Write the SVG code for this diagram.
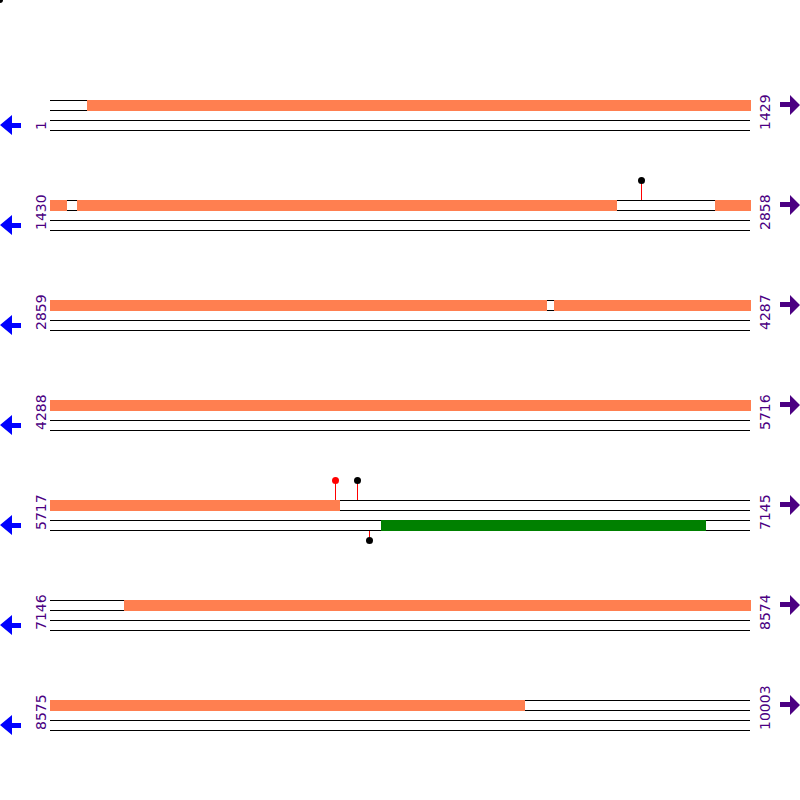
<svg xmlns="http://www.w3.org/2000/svg" width="800" height="800" viewBox="0 0 800 800">
<style>
.ln{stroke:#000;stroke-width:1;fill:none}
.cds{fill:#FF7F50}
.grn{fill:#008000}
.lbl{font-family:"DejaVu Sans",sans-serif;font-size:14px;fill:#4B0082}
.la{fill:#0000FF}
.ra{fill:#4B0082}
.stem{stroke:#FF0000;stroke-width:1}
</style>
<defs>
<g id="strands">
<line class="ln" x1="50" y1="0.5" x2="750" y2="0.5"/>
<line class="ln" x1="50" y1="10.5" x2="750" y2="10.5"/>
<line class="ln" x1="50" y1="20.5" x2="750" y2="20.5"/>
<line class="ln" x1="50" y1="30.5" x2="750" y2="30.5"/>
</g>
<path id="larrow" d="M0,25 L12,15 L12,23 L21,23 L21,28 L12,28 L12,35 Z"/>
<path id="rarrow" d="M800,5 L790,-5 L790,2 L780,2 L780,7 L790,7 L790,15 Z"/>
</defs>
<circle cx="0" cy="0" r="3" fill="#000"/>
<g id="row1" transform="translate(0,100)">
<use href="#strands"/>
<rect class="cds" x="87" y="0" width="664" height="11"/>
<text class="lbl" transform="translate(46,30) rotate(-90)">1</text>
<text class="lbl" transform="translate(770,30) rotate(-90)">1429</text>
<use href="#larrow" class="la"/>
<use href="#rarrow" class="ra"/>
</g>
<g id="row2" transform="translate(0,200)">
<use href="#strands"/>
<rect class="cds" x="50" y="0" width="17" height="11"/>
<rect class="cds" x="77" y="0" width="540" height="11"/>
<rect class="cds" x="715" y="0" width="36" height="11"/>
<line class="stem" x1="641.5" y1="-19" x2="641.5" y2="0"/>
<circle cx="641.5" cy="-19.5" r="3.5" fill="#000"/>
<text class="lbl" transform="translate(46,30) rotate(-90)">1430</text>
<text class="lbl" transform="translate(770,30) rotate(-90)">2858</text>
<use href="#larrow" class="la"/>
<use href="#rarrow" class="ra"/>
</g>
<g id="row3" transform="translate(0,300)">
<use href="#strands"/>
<rect class="cds" x="50" y="0" width="497" height="11"/>
<rect class="cds" x="554" y="0" width="197" height="11"/>
<text class="lbl" transform="translate(46,30) rotate(-90)">2859</text>
<text class="lbl" transform="translate(770,30) rotate(-90)">4287</text>
<use href="#larrow" class="la"/>
<use href="#rarrow" class="ra"/>
</g>
<g id="row4" transform="translate(0,400)">
<use href="#strands"/>
<rect class="cds" x="50" y="0" width="701" height="11"/>
<text class="lbl" transform="translate(46,30) rotate(-90)">4288</text>
<text class="lbl" transform="translate(770,30) rotate(-90)">5716</text>
<use href="#larrow" class="la"/>
<use href="#rarrow" class="ra"/>
</g>
<g id="row5" transform="translate(0,500)">
<use href="#strands"/>
<rect class="cds" x="50" y="0" width="290" height="11"/>
<rect class="grn" x="381" y="20" width="325" height="11"/>
<line class="stem" x1="335.5" y1="-19" x2="335.5" y2="0"/>
<circle cx="335.5" cy="-19.5" r="3.5" fill="#FF0000"/>
<line class="stem" x1="357.5" y1="-19" x2="357.5" y2="0"/>
<circle cx="357.5" cy="-19.5" r="3.5" fill="#000"/>
<line class="stem" x1="369.5" y1="31" x2="369.5" y2="40"/>
<circle cx="369.5" cy="40.5" r="3.5" fill="#000"/>
<text class="lbl" transform="translate(46,30) rotate(-90)">5717</text>
<text class="lbl" transform="translate(770,30) rotate(-90)">7145</text>
<use href="#larrow" class="la"/>
<use href="#rarrow" class="ra"/>
</g>
<g id="row6" transform="translate(0,600)">
<use href="#strands"/>
<rect class="cds" x="124" y="0" width="627" height="11"/>
<text class="lbl" transform="translate(46,30) rotate(-90)">7146</text>
<text class="lbl" transform="translate(770,30) rotate(-90)">8574</text>
<use href="#larrow" class="la"/>
<use href="#rarrow" class="ra"/>
</g>
<g id="row7" transform="translate(0,700)">
<use href="#strands"/>
<rect class="cds" x="50" y="0" width="475" height="11"/>
<text class="lbl" transform="translate(46,30) rotate(-90)">8575</text>
<text class="lbl" transform="translate(770,30) rotate(-90)">10003</text>
<use href="#larrow" class="la"/>
<use href="#rarrow" class="ra"/>
</g>
</svg>
